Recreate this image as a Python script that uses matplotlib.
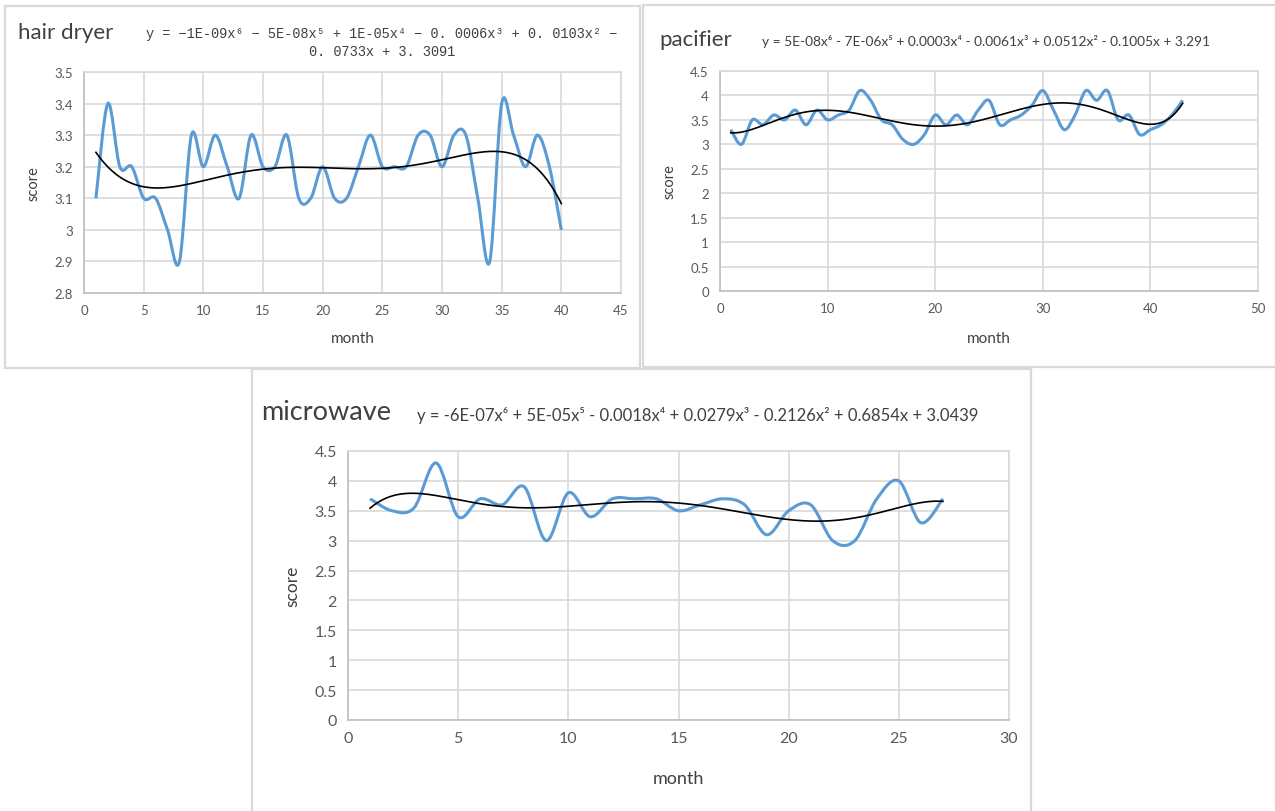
import numpy as np
import matplotlib.pyplot as plt
from matplotlib.path import Path
from matplotlib.patches import PathPatch, Rectangle

plt.rcParams['font.family'] = ['Lato', 'DejaVu Sans']

W, H = 1275, 812

# ---- data ----
hair_month = np.arange(1, 41)
hair_score = [3.1, 3.4, 3.2, 3.2, 3.1, 3.1, 3.0, 2.9, 3.3, 3.2,
              3.3, 3.2, 3.1, 3.3, 3.2, 3.2, 3.3, 3.1, 3.1, 3.2,
              3.1, 3.1, 3.2, 3.3, 3.2, 3.2, 3.2, 3.3, 3.3, 3.2,
              3.3, 3.3, 3.1, 2.9, 3.4, 3.3, 3.2, 3.3, 3.2, 3.0]

paci_month = np.arange(1, 44)
paci_score = [3.3, 3.0, 3.5, 3.4, 3.6, 3.5, 3.7, 3.4, 3.7, 3.5,
              3.6, 3.7, 4.1, 3.9, 3.5, 3.4, 3.1, 3.0, 3.2, 3.6,
              3.4, 3.6, 3.4, 3.7, 3.9, 3.4, 3.5, 3.6, 3.8, 4.1,
              3.7, 3.3, 3.6, 4.1, 3.9, 4.1, 3.5, 3.6, 3.2, 3.3,
              3.4, 3.6, 3.9]

micro_month = np.arange(1, 28)
micro_score = [3.7, 3.5, 3.55, 4.3, 3.4, 3.7, 3.6, 3.9, 3.0, 3.8,
               3.4, 3.7, 3.7, 3.7, 3.5, 3.6, 3.7, 3.6, 3.1, 3.5,
               3.6, 3.0, 3.0, 3.7, 4.0, 3.3, 3.7]

hair_eq = ('y = \u22121E-09x\u2076 \u2212 5E-08x\u2075 + 1E-05x\u2074 \u2212 0. 0006x\u00b3 + 0. 0103x\u00b2 \u2212\n'
           '0. 0733x + 3. 3091')
paci_eq = 'y = 5E-08x\u2076 - 7E-06x\u2075 + 0.0003x\u2074 - 0.0061x\u00b3 + 0.0512x\u00b2 - 0.1005x + 3.291'
micro_eq = 'y = -6E-07x\u2076 + 5E-05x\u2075 - 0.0018x\u2074 + 0.0279x\u00b3 - 0.2126x\u00b2 + 0.6854x + 3.0439'

BLUE = '#5b9bd5'
GRID = '#d9d9d9'
TICK = '#595959'

fig = plt.figure(figsize=(W / 100, H / 100), dpi=100)


def fx(px):
    return px / W


def fy(py):
    return 1 - py / H


def smooth_path(x, y):
    # Excel-style smoothed line: cubic Bezier through the points
    x = np.asarray(x, float)
    y = np.asarray(y, float)
    pts = np.column_stack([x, y])
    verts = [pts[0]]
    codes = [Path.MOVETO]
    n = len(pts)
    for i in range(n - 1):
        p0 = pts[i - 1] if i > 0 else pts[i]
        p1 = pts[i]
        p2 = pts[i + 1]
        p3 = pts[i + 2] if i + 2 < n else pts[i + 1]
        c1 = p1 + (p2 - p0) / 6
        c2 = p2 - (p3 - p1) / 6
        verts += [c1, c2, p2]
        codes += [Path.CURVE4] * 3
    return Path(verts, codes)


def panel(box, month, score, xlim, xstep, ylim, ystep, tick_fs, lab_fs, xpad):
    l, t, r, b = box
    ax = fig.add_axes([fx(l), fy(b), fx(r - l), (b - t) / H])
    ax.add_patch(PathPatch(smooth_path(month, score), facecolor='none',
                           edgecolor=BLUE, lw=2.2, zorder=3))
    coef = np.polyfit(month, score, 6)
    xs = np.linspace(month[0], month[-1], 300)
    ax.plot(xs, np.polyval(coef, xs), color='black', lw=1.2, zorder=4)
    ax.set_xlim(*xlim)
    ax.set_ylim(*ylim)
    ax.set_xticks(np.arange(xlim[0], xlim[1] + xstep / 2, xstep))
    ax.set_yticks(np.round(np.arange(ylim[0], ylim[1] + ystep / 2, ystep), 2))
    ax.yaxis.set_major_formatter(plt.FuncFormatter(lambda v, p: f'{v:g}'))
    ax.grid(True, color=GRID, lw=1.2)
    ax.set_axisbelow(True)
    for s in ax.spines.values():
        s.set_color(GRID)
        s.set_linewidth(1.2)
    ax.spines['left'].set_color('#bfbfbf')
    ax.spines['bottom'].set_color('#bfbfbf')
    ax.tick_params(length=0, labelsize=tick_fs, colors=TICK, pad=8)
    ax.set_xlabel('month', fontsize=lab_fs, color='#404040', labelpad=xpad)
    ax.set_ylabel('score', fontsize=lab_fs - 0.5, color='#404040', labelpad=10)
    return ax


# panel frames
for (x0, y0, x1, y1) in [(5, 7, 640, 369), (643, 6, 1285, 368), (252, 370, 1031, 820)]:
    fig.patches.append(Rectangle((fx(x0), fy(y1)), fx(x1 - x0), (y1 - y0) / H,
                                 transform=fig.transFigure, facecolor='none',
                                 edgecolor=GRID, lw=1.6))

panel((84, 73, 621, 294), hair_month, hair_score, (0, 45), 5, (2.8, 3.5), 0.1, 9.5, 11, 11)
panel((720, 72, 1258, 292), paci_month, paci_score, (0, 50), 10, (0, 4.5), 0.5, 9.5, 11, 12)
panel((348, 452, 1009, 721), micro_month, micro_score, (0, 30), 5, (0, 4.5), 0.5, 11.5, 13, 18)

# titles and trendline equations
fig.text(fx(18), fy(33), 'hair dryer', fontsize=16, color='#404040', va='center')
fig.text(fx(382), fy(43), hair_eq, fontsize=9.8, color='#404040', ha='center',
         va='center', family=['Liberation Mono', 'DejaVu Sans Mono'], linespacing=1.3)
fig.text(fx(659), fy(40), 'pacifier', fontsize=16, color='#404040', va='center')
fig.text(fx(762), fy(42), paci_eq, fontsize=9.9, color='#404040', va='center')
fig.text(fx(261), fy(412), 'microwave', fontsize=19.5, color='#404040', va='center')
fig.text(fx(417), fy(416), micro_eq, fontsize=12, color='#404040', va='center')

fig.savefig('out.png', dpi=100, facecolor='white')
